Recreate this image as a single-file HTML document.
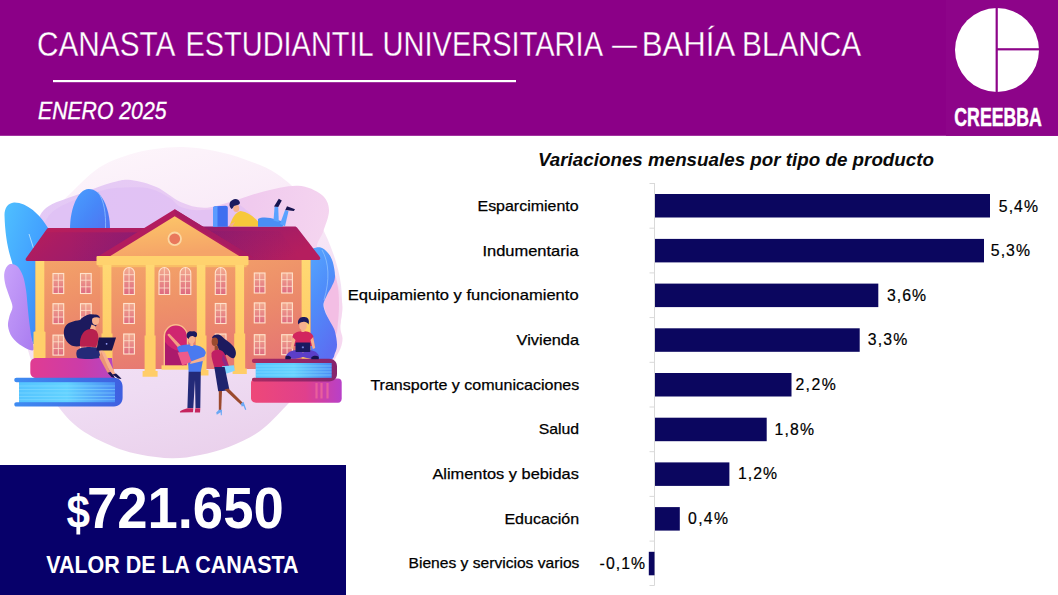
<!DOCTYPE html>
<html lang="es">
<head>
<meta charset="utf-8">
<title>Canasta Estudiantil Universitaria</title>
<style>
html,body{margin:0;padding:0;background:#fff;}
body{width:1058px;height:595px;overflow:hidden;font-family:"Liberation Sans",sans-serif;}
svg{display:block;}
text{font-family:"Liberation Sans",sans-serif;}
.cat{font-size:15px;fill:#000;stroke:#000;stroke-width:0.25px;}
.val{font-size:15.8px;fill:#000;stroke:#000;stroke-width:0.2px;}
</style>
</head>
<body>
<svg width="1058" height="595" viewBox="0 0 1058 595">
<defs>
<linearGradient id="gBg" x1="0.3" y1="0" x2="0.55" y2="1"><stop offset="0" stop-color="#fdf5fb"/><stop offset="0.4" stop-color="#f7e6f6"/><stop offset="0.75" stop-color="#efdcf3"/><stop offset="1" stop-color="#ead1ec"/></linearGradient>
<linearGradient id="gLil" gradientUnits="userSpaceOnUse" x1="30" y1="200" x2="345" y2="260"><stop offset="0" stop-color="#e3c9f6"/><stop offset="0.45" stop-color="#e8cbf4"/><stop offset="0.68" stop-color="#f0caee"/><stop offset="1" stop-color="#f6d8f0"/></linearGradient>
<linearGradient id="gLeafL" x1="0" y1="0" x2="1" y2="1"><stop offset="0" stop-color="#4fc0ff"/><stop offset="0.55" stop-color="#42a0ff"/><stop offset="1" stop-color="#3f7cf5"/></linearGradient>
<linearGradient id="gLeafC" x1="0" y1="0" x2="1" y2="0.8"><stop offset="0" stop-color="#4aa0ff"/><stop offset="0.6" stop-color="#4787f8"/><stop offset="1" stop-color="#4f76f2"/></linearGradient>
<linearGradient id="gLeafR" x1="0" y1="0" x2="0.4" y2="1"><stop offset="0" stop-color="#58acff"/><stop offset="0.5" stop-color="#4f8efa"/><stop offset="1" stop-color="#5b6ff2"/></linearGradient>
<linearGradient id="gVio" x1="0" y1="0" x2="1" y2="1"><stop offset="0" stop-color="#c9a2fa"/><stop offset="1" stop-color="#a97cf0"/></linearGradient>
<linearGradient id="gWall" x1="0" y1="0" x2="0.2" y2="1"><stop offset="0" stop-color="#f4a568"/><stop offset="0.5" stop-color="#ee9069"/><stop offset="1" stop-color="#e77a72"/></linearGradient>
<linearGradient id="gWallR" x1="0" y1="0" x2="0.2" y2="1"><stop offset="0" stop-color="#f19c69"/><stop offset="0.5" stop-color="#eb896b"/><stop offset="1" stop-color="#e57574"/></linearGradient>
<linearGradient id="gYel" x1="0" y1="0" x2="0" y2="1"><stop offset="0" stop-color="#ffd873"/><stop offset="1" stop-color="#ffc964"/></linearGradient>
<linearGradient id="gPed" x1="0" y1="0" x2="0.3" y2="1"><stop offset="0" stop-color="#fdc868"/><stop offset="1" stop-color="#f5a468"/></linearGradient>
<linearGradient id="gRoofL" x1="0" y1="0" x2="1" y2="0.25"><stop offset="0" stop-color="#b91e58"/><stop offset="0.3" stop-color="#a91c64"/><stop offset="0.7" stop-color="#991c6e"/><stop offset="1" stop-color="#8a1b72"/></linearGradient>
<linearGradient id="gRoofR" x1="0" y1="0" x2="1" y2="0.5"><stop offset="0" stop-color="#8c1b70"/><stop offset="0.45" stop-color="#9f1c68"/><stop offset="1" stop-color="#b51e5e"/></linearGradient>
<linearGradient id="gPane" x1="0" y1="0" x2="0" y2="1"><stop offset="0" stop-color="#f3ab8f"/><stop offset="1" stop-color="#de6a80"/></linearGradient>
<linearGradient id="gPinkBk" x1="0" y1="0" x2="1" y2="0"><stop offset="0" stop-color="#e03c92"/><stop offset="0.6" stop-color="#cc3ca8"/><stop offset="1" stop-color="#b546c2"/></linearGradient>
<linearGradient id="gPinkBk2" x1="0" y1="0" x2="1" y2="0"><stop offset="0" stop-color="#ee4878"/><stop offset="0.6" stop-color="#e0408c"/><stop offset="1" stop-color="#b840c8"/></linearGradient>
<linearGradient id="gBlueBk" x1="0" y1="0" x2="1" y2="0"><stop offset="0" stop-color="#3f8cf2"/><stop offset="1" stop-color="#3f5fe0"/></linearGradient>
<linearGradient id="gPages" x1="0" y1="0" x2="1" y2="0"><stop offset="0" stop-color="#55c4ff"/><stop offset="0.5" stop-color="#62d2ff"/><stop offset="1" stop-color="#4a8cf5"/></linearGradient>
<linearGradient id="gPlum" x1="0" y1="0" x2="1" y2="0"><stop offset="0" stop-color="#a82a62"/><stop offset="1" stop-color="#86246e"/></linearGradient>
<linearGradient id="gGround" x1="0" y1="0" x2="0" y2="1"><stop offset="0" stop-color="#efdcf5"/><stop offset="1" stop-color="#e8d3f3"/></linearGradient>
<g id="winR">
<rect x="0.5" y="0.5" width="10.7" height="20" fill="url(#gPane)" stroke="#ffe2cc" stroke-width="1.1"/>
<path d="M5.85 0.5V20.5M0.5 7.2H11.2M0.5 13.8H11.2" stroke="#ffe2cc" stroke-width="0.8" fill="none"/>
</g>
<g id="winA">
<path d="M0.5 27.5V6.2A5.35 5.7 0 0 1 11.2 6.2V27.5Z" fill="url(#gPane)" stroke="#ffe2cc" stroke-width="1.1"/>
<path d="M5.85 0.5V27.5M0.5 7.7H11.2M0.5 14.3H11.2M0.5 21H11.2" stroke="#ffe2cc" stroke-width="0.8" fill="none"/>
</g>
<linearGradient id="gShL" x1="0" y1="0" x2="1" y2="0"><stop offset="0" stop-color="#7d1a72" stop-opacity="0"/><stop offset="1" stop-color="#7d1a72" stop-opacity="0.5"/></linearGradient>
<linearGradient id="gShR" x1="0" y1="0" x2="1" y2="0"><stop offset="0" stop-color="#7d1a72" stop-opacity="0.45"/><stop offset="1" stop-color="#7d1a72" stop-opacity="0"/></linearGradient>
</defs>
<rect x="0" y="0" width="1058" height="595" fill="#ffffff"/>
<!-- ILLUSTRATION -->
<g id="illus">
<!-- background blobs -->
<path d="M183.0 147.0C193.0 147.3 204.7 148.9 215.0 151.0C225.3 153.1 234.7 155.7 245.0 159.5C255.3 163.3 267.0 167.2 277.0 174.0C287.0 180.8 296.5 189.0 305.0 200.0C313.5 211.0 322.0 225.8 328.0 240.0C334.0 254.2 339.2 270.0 341.0 285.0C342.8 300.0 342.5 315.8 339.0 330.0C335.5 344.2 328.7 357.5 320.0 370.0C311.3 382.5 297.0 394.8 287.0 405.0C277.0 415.2 269.5 424.1 260.0 431.0C250.5 437.9 240.0 442.5 230.0 446.5C220.0 450.5 209.7 453.0 200.0 455.0C190.3 457.0 182.0 458.4 172.0 458.3C162.0 458.2 149.8 456.5 140.0 454.5C130.2 452.5 122.9 450.7 113.0 446.5C103.1 442.3 89.8 436.1 80.7 429.5C71.6 422.9 66.1 416.9 58.5 407.0C50.9 397.1 40.8 382.8 35.0 370.0C29.2 357.2 26.0 343.3 24.0 330.0C22.0 316.7 21.5 304.2 23.0 290.0C24.5 275.8 28.5 257.5 33.0 245.0C37.5 232.5 44.0 223.4 50.0 215.0C56.0 206.6 61.2 202.4 69.3 194.6C77.4 186.8 88.8 174.6 98.6 168.0C108.4 161.4 118.6 158.2 128.0 155.0C137.4 151.8 145.8 150.3 155.0 149.0C164.2 147.7 173.0 146.7 183.0 147.0Z" fill="url(#gBg)"/>
<path d="M34.0 250.0C34.0 234.7 34.0 235.0 36.0 228.0C38.0 221.0 39.0 213.6 46.0 208.0C53.0 202.4 66.8 198.9 78.0 194.6C89.2 190.3 104.2 184.7 113.0 182.3C121.8 179.9 123.7 179.2 131.0 180.0C138.3 180.8 148.7 183.6 157.0 187.3C165.3 191.0 172.8 198.6 180.6 202.0C188.4 205.4 195.8 207.8 204.0 207.8C212.2 207.8 220.2 204.7 230.0 202.0C239.8 199.3 251.4 194.4 262.7 191.7C274.0 189.0 288.2 185.3 298.0 185.8C307.8 186.3 316.1 190.6 321.3 194.6C326.5 198.6 328.7 203.8 329.0 210.0C329.3 216.2 325.0 225.8 323.0 232.0C321.0 238.2 316.5 242.0 317.0 247.0C317.5 252.0 323.3 257.5 326.0 262.0C328.7 266.5 330.9 270.0 333.0 274.0C335.1 278.0 337.3 282.6 338.5 286.0C339.7 289.4 339.7 290.9 340.4 294.5C341.1 298.1 342.5 302.1 342.5 307.6C342.5 313.1 340.4 322.2 340.4 327.3C340.4 332.4 342.4 334.7 342.5 338.0C342.6 341.3 341.9 344.2 341.0 347.0C340.1 349.8 338.8 352.5 337.0 355.0C335.2 357.5 336.2 360.2 330.0 362.0C323.8 363.8 325.0 365.3 300.0 366.0C275.0 366.7 220.0 366.0 180.0 366.0C140.0 366.0 84.0 373.7 60.0 366.0C36.0 358.3 40.3 339.3 36.0 320.0C31.7 300.7 34.0 265.3 34.0 250.0Z" fill="url(#gLil)"/>
<path d="M40.0 250.0C40.7 248.8 41.0 232.0 44.0 225.0C47.0 218.0 48.7 213.7 58.0 208.0C67.3 202.3 88.3 194.4 100.0 191.0C111.7 187.6 119.5 187.8 128.0 187.5C136.5 187.2 144.0 187.2 151.0 189.0C158.0 190.8 165.3 195.2 170.0 198.0C174.7 200.8 175.0 204.0 179.0 206.0C183.0 208.0 188.2 209.5 194.0 210.0C199.8 210.5 206.3 209.8 214.0 209.0C221.7 208.2 235.7 201.2 240.0 205.0C244.3 208.8 273.3 227.5 240.0 232.0C206.7 236.5 73.3 229.0 40.0 232.0C6.7 235.0 39.3 251.2 40.0 250.0Z" fill="#dcbcf4" opacity="0.55"/>
<path d="M334.0 274.0C335.7 273.3 337.2 282.8 338.0 288.0C338.8 293.2 339.0 299.3 339.0 305.0C339.0 310.7 338.5 317.2 338.0 322.0C337.5 326.8 337.3 334.0 336.0 334.0C334.7 334.0 332.0 326.8 330.0 322.0C328.0 317.2 324.3 310.0 324.0 305.0C323.7 300.0 326.3 297.2 328.0 292.0C329.7 286.8 332.3 274.7 334.0 274.0Z" fill="#f1b6e0" opacity="0.75"/>
<!-- leaves -->
<path d="M14 202.5C8 203 4.5 208 4.5 215C5 235 8 250 12 262C18 290 24 320 33 344L40 344L48 228C40 214 26 202 14 202.5Z" fill="url(#gLeafL)"/>
<path d="M29 234L35 253" stroke="#c8eaff" stroke-width="0.8" fill="none"/>
<path d="M70 229C70 208 78 189.5 88.5 189C100 188.5 110 206 110 229Z" fill="url(#gLeafC)"/>
<path d="M98 192C104 200 106 214 105.5 228" stroke="#8fc0ff" stroke-width="0.8" fill="none"/>
<path d="M306.0 252.0C307.2 233.1 310.6 249.2 313.0 248.5C315.4 247.8 318.2 246.8 320.7 247.6C323.2 248.3 326.0 250.6 328.0 253.0C330.0 255.4 331.5 257.8 332.7 261.8C333.9 265.8 335.2 272.8 335.0 277.0C334.8 281.2 332.8 284.1 331.5 287.0C330.2 289.9 328.6 291.8 327.3 294.5C326.0 297.2 324.1 300.7 323.6 303.3C323.1 305.9 323.9 307.8 324.5 310.0C325.1 312.2 326.1 314.1 327.3 316.4C328.5 318.7 330.2 321.5 331.5 324.0C332.8 326.5 334.1 328.2 335.0 331.6C335.9 335.1 337.0 341.1 337.0 344.7C337.0 348.3 336.2 350.4 335.0 353.0C333.8 355.6 334.8 358.5 330.0 360.0C325.2 361.5 310.0 380.0 306.0 362.0C302.0 344.0 304.8 270.9 306.0 252.0Z" fill="url(#gLeafR)"/>
<path d="M322 250C329 262 330 280 324 300" stroke="#a8d4ff" stroke-width="0.7" fill="none" opacity="0.8"/>
<path d="M9.0 264.5C11.1 263.5 14.7 264.1 17.0 266.0C19.3 267.9 21.5 272.0 23.0 276.0C24.5 280.0 25.2 285.2 26.0 290.0C26.8 294.8 27.0 300.0 27.5 305.0C28.0 310.0 28.4 315.0 29.0 320.0C29.6 325.0 30.2 330.0 31.0 335.0C31.8 340.0 35.0 348.2 33.5 350.0C32.0 351.8 25.6 348.2 22.0 346.0C18.4 343.8 14.3 340.3 12.0 337.0C9.7 333.7 8.4 329.5 8.0 326.0C7.6 322.5 8.8 319.2 9.5 316.0C10.2 312.8 12.5 310.2 12.5 307.0C12.5 303.8 10.8 301.0 9.5 297.0C8.2 293.0 5.8 287.2 5.0 283.0C4.2 278.8 3.8 275.1 4.5 272.0C5.2 268.9 6.9 265.5 9.0 264.5Z" fill="url(#gVio)"/>
<!-- ground -->
<path d="M46 368H340C342 380 336 400 330 410L60 410Z" fill="url(#gGround)" opacity="0.0"/>
<!-- BUILDING -->
<!-- left wing -->
<rect x="35.5" y="258" width="70" height="111" fill="url(#gWall)"/>
<rect x="247" y="258" width="63.5" height="111" fill="url(#gWallR)"/>
<rect x="100" y="262" width="148" height="107" fill="url(#gWall)"/>
<!-- roofs -->
<path d="M49.5 228H176L150 261H28.5C25.5 261 24.8 259.5 26.5 257.5L46.5 229.5C47.3 228.4 48 228 49.5 228Z" fill="url(#gRoofL)"/>
<path d="M172 226.5H294.5C296 226.5 296.8 227 297.6 228.2L319.5 256.5C321 258.6 320.3 260 317.5 260H196Z" fill="url(#gRoofR)"/>
<!-- roof shadow -->
<path d="M70 232.5H172L150 261H70Z" fill="url(#gShL)"/>
<path d="M48 228H176L173 232.3H45Z" fill="#bd1f5a" opacity="0.55"/>
<path d="M178 231H280L300 260H200Z" fill="url(#gShR)"/>
<!-- pilasters -->
<rect x="35.5" y="261" width="8.8" height="98" fill="url(#gYel)"/>
<rect x="33.5" y="331.5" width="12" height="27" rx="1" fill="#ffcf6a"/>
<rect x="301.6" y="260" width="8.8" height="108.5" fill="url(#gYel)"/>
<!-- pediment -->
<path d="M174.7 209.2L254 258H95.5Z" fill="#b31c5e"/>
<path d="M174.7 209.2L254 258H246L174.7 214Z" fill="#a81b62"/>
<path d="M174.7 216.3L240 256.5H109.5Z" fill="url(#gPed)"/>
<circle cx="174.7" cy="238.8" r="7.2" fill="#fbd7a3"/>
<circle cx="174.7" cy="238.8" r="5.4" fill="#e9785c"/>
<!-- entablature -->
<rect x="96.5" y="256" width="152" height="9.2" rx="1" fill="#ffd26e"/>
<rect x="98.5" y="265" width="148" height="2.2" fill="#f9bd66"/>
<!-- windows -->
<use href="#winR" x="52.5" y="273"/><use href="#winR" x="80" y="273"/>
<use href="#winR" x="52.5" y="303.2"/><use href="#winR" x="80" y="303.2"/>
<use href="#winR" x="52.5" y="334.6"/><use href="#winR" x="80" y="334.6"/>
<use href="#winR" x="253.8" y="272.5"/><use href="#winR" x="281.2" y="272.5"/>
<use href="#winR" x="253.8" y="302.4"/><use href="#winR" x="281.2" y="302.4"/>
<use href="#winR" x="253.8" y="334.2"/><use href="#winR" x="281.2" y="334.2"/>
<use href="#winA" x="123.2" y="267"/><use href="#winA" x="158.5" y="267"/><use href="#winA" x="179.6" y="267"/><use href="#winA" x="214.8" y="267"/>
<use href="#winR" x="123.2" y="303"/><use href="#winR" x="214.8" y="303"/>
<use href="#winR" x="123.2" y="333.5"/><use href="#winR" x="214.8" y="333.5"/>
<!-- door -->
<path d="M163.6 366V336.3A12.2 12.2 0 0 1 188 336.3V366Z" fill="#f9c08c"/>
<path d="M165 366V336.5A10.9 10.9 0 0 1 186.800 336.5V366Z" fill="#cf2670"/>
<path d="M165 366V342C169 347 174 350 179 351L184 366Z" fill="#ab1a6c"/>
<rect x="161.5" y="365.3" width="30" height="4.4" fill="#ffd26e"/>
<!-- columns -->
<g fill="url(#gYel)">
<rect x="102.6" y="265" width="8.8" height="106"/>
<rect x="145.7" y="265" width="8.8" height="108"/>
<rect x="196.8" y="265" width="8.6" height="108"/>
<rect x="235.3" y="265" width="8.8" height="106"/>
</g>
<g fill="#ffcd68">
<path d="M101.5 333.5H112.5V369H114V374.5H100V369H101.5Z"/>
<path d="M144.6 335.5H155.6V371H157.6V376.8H142.6V371H144.6Z"/>
<path d="M195.7 335.5H206.5V370H208.5V375.5H193.7V370H195.7Z"/>
<path d="M234.2 333.5H245.2V368.5H246.8V374H232.6V368.5H234.2Z"/>
</g>
<!-- LEFT BOOKS -->
<path d="M36 358H112L114 378H36C32.5 378 30.3 375.5 30.3 372V364C30.3 360.5 32.5 358 36 358Z" fill="url(#gPinkBk)"/>
<path d="M16.5 377.8H114C119 377.8 122.6 381.5 122.6 386.5V397.8C122.6 402.8 119 406.5 114 406.5H16.5C15 406.5 14.3 405.6 14.3 404.4C14.3 403 15 402.2 16.5 402.2H19V382.2H16.5C15 382.2 14.3 381.3 14.3 380C14.3 378.7 15 377.8 16.5 377.8Z" fill="url(#gBlueBk)"/>
<rect x="19" y="382.2" width="96" height="20" fill="url(#gPages)"/>
<path d="M19 386H115M19 389.5H115M19 393H115M19 396.5H115M19 399.7H115" stroke="#8fe0ff" stroke-width="0.6" opacity="0.8" fill="none"/>
<!-- RIGHT BOOKS -->
<path d="M256 378.6H338C340.2 378.6 341.7 380.2 341.7 382.5V398.8C341.7 401.2 340.2 402.7 338 402.7H256C253 402.7 251 400.7 251 398V383.4C251 380.6 253 378.6 256 378.6Z" fill="url(#gPinkBk2)"/>
<path d="M316.5 383V398.5M321.5 383V398.5M327.5 383V398.5" stroke="#f06a9a" stroke-width="2.2" opacity="0.75" fill="none"/>
<path d="M254 358.8H329C334 358.8 337 362 337 366.5V373.8C337 378.4 334 381.4 329 381.4H254C252.7 381.4 252 380.6 252 379.6C252 378.5 252.7 377.8 254 377.8H256V363H254C252.7 363 252 362.1 252 361C252 359.7 252.7 358.8 254 358.8Z" fill="url(#gPlum)"/>
<rect x="255.7" y="363" width="76" height="14.8" fill="url(#gPages)"/>
<path d="M255.7 366H331.5M255.7 369H331.5M255.7 372H331.5M255.7 375H331.5" stroke="#9fe6ff" stroke-width="0.6" opacity="0.8" fill="none"/>
<!-- WOMAN SITTING LEFT -->
<path d="M96 315.5C90 312.5 84 316 80 320C74 321 67 322 64.5 328C62.5 334 65 341 70 344.5C75 348 82 346.5 86 343C90 338 92 330 96 326C99 323 99.5 318 96 315.5Z" fill="#1c1a5e"/>
<ellipse cx="95.6" cy="320.6" rx="3.6" ry="4.4" fill="#f7b08e"/>
<path d="M92 315.5C95 313.5 99.5 314.5 100 318C97.5 317 94.5 317 92 318.5Z" fill="#1c1a5e"/>
<path d="M91.5 324.5L95.5 326L95.5 330L90 329Z" fill="#f7b08e"/>
<path d="M83 333C86 328.5 93 327.5 96.5 331C99.5 335 98.5 342 96 347L80 346.5C79.5 341 80.5 336.5 83 333Z" fill="#b8204e"/>
<path d="M77 350.5C80 346 96 346 101 349L103 357C95 359.5 84 359.5 77.5 358C76 355.5 76 352.5 77 350.5Z" fill="#232a78"/>
<path d="M98.8 337.5H116L112 350.6H96.4Z" fill="#16144f"/>
<circle cx="106.6" cy="343.8" r="0.9" fill="#9aa4ff"/>
<path d="M99 351C101.5 350 104 351 105 353L115.5 374L113 375.5L100.5 357Z" fill="#f7b08e"/>
<path d="M101.5 352L110 372L108 373.5L99 357Z" fill="#ec9576"/>
<path d="M112.5 374.5L116 373.5C118.5 375.5 120.5 377.5 121.5 379L118 378.5Z" fill="#16144f"/>
<path d="M107.5 372.8L110.5 372C112.5 374 114 376 115 378L111.5 377Z" fill="#16144f"/>
<!-- MAN STANDING -->
<path d="M178.5 348L167.8 335.6C166.9 334.3 168.6 333 169.7 334.1L181 345.8Z" fill="#f3a083"/>
<path d="M177 347.5C181 344 190 344 197 345.5C202 346.5 205.5 349.5 205.8 353L203 360L200.8 372H188.6L188 360C184 358 179 354 177 347.5Z" fill="#4a7af0"/>
<path d="M177.6 352.4L187.8 351.5L191.5 361.7L182.2 365.4Z" fill="#ee5a8a"/>
<path d="M205.5 356L191 361.5L190 364L205 360.5Z" fill="#f7b08e"/>
<rect x="190.3" y="342.5" width="3" height="3.5" fill="#f7b08e"/>
<ellipse cx="191.6" cy="339.6" rx="3.4" ry="4" fill="#f7b08e"/>
<path d="M187 337.5C185.5 333.5 188.5 330.5 192 331.5C195.500 330.500 198 333 196.800 336C196 338 194.500 337 193 336C191 335.500 189.500 336.500 188.500 339Z" fill="#1c1a5e"/>
<path d="M188.600 371.800H200.800L200.300 408H195.500L195 380L193.300 408H187.400Z" fill="#232a78"/>
<path d="M187.500 408.300L193.300 408.300L193 412.300L180 412.400C179.300 411 183 409.500 187.500 408.300Z" fill="#c5245e"/>
<path d="M195.300 408.300H200.300L200 412.600L194.800 412.600Z" fill="#c5245e"/>
<!-- WOMAN STANDING -->
<path d="M212 337.500C213.500 334 219 333.500 222 336.500C225.500 340 229.500 342 232.500 345.500C236.500 349.500 237 355.500 234 358C231 359 229 356 226.500 354.500C224.500 357 222 355 221.500 352C219.500 350.500 218 348.500 217.500 346Z" fill="#1c1a5e"/>
<ellipse cx="214.800" cy="341.800" rx="3.200" ry="4.200" fill="#9b4a2e"/>
<path d="M214.500 345.500L218 346L218.500 350.500H214.500Z" fill="#9b4a2e"/>
<path d="M211.500 353C212.500 350 217 349 220 350C223.500 351 225 354 226 357L229.800 368.500L226.500 370L224.500 367.200H214.300C213 362 211 357.500 211.500 353Z" fill="#c01e64"/>
<path d="M223 354L229.800 368.500L227 370L222 360Z" fill="#8e2a86"/>
<path d="M221.900 366.200L233.900 365.300L234.900 370.800L223.800 374.500Z" fill="#7fd4ff"/>
<path d="M214.300 367H224.700L229.300 389.300C226 391 221.500 391.500 218.200 391.200Z" fill="#1f246e"/>
<path d="M218.800 391L222 391L221.200 410.500H218.800Z" fill="#9b4a2e"/>
<path d="M224.500 389.500L228.500 388.500L243 403L241.200 405Z" fill="#9b4a2e"/>
<path d="M216.200 412.500L219 409.800H222L221.800 415.200L220.800 415.200L220.600 412.200L216.800 414.800Z" fill="#6aa8f5"/>
<path d="M241 403.500L243.500 401.800L246.300 409.500L245.200 410L243.500 406L241.600 406.500Z" fill="#6aa8f5"/>
<!-- BOY SITTING RIGHT -->
<path d="M286 356C288 351 296 348 303 352.500C310 348 317 351 319 356C317.500 359.500 311 359.500 303 357C295 359.500 288 359.500 286 356Z" fill="#5b3ec8"/>
<path d="M285.300 356.500C287 355 290 355.500 291.200 357.500L290.500 359.300H285.300Z" fill="#16144f"/>
<path d="M311.300 357.500C312.500 355.500 316.500 355 318.800 356.800V359.300H311.300Z" fill="#16144f"/>
<path d="M292.500 336C294 332.500 298 331.300 303 331.300C308 331.300 311.500 332.500 313.200 336L314.500 346H291.500Z" fill="#d2255e"/>
<path d="M292.500 337L290.500 348L293 349L295.500 340Z" fill="#f7b08e"/>
<path d="M313.200 337L315.200 348L312.800 349L310.500 340Z" fill="#f7b08e"/>
<rect x="301.500" y="328.500" width="3" height="3.500" fill="#f7b08e"/>
<ellipse cx="303" cy="325.800" rx="3.800" ry="4.300" fill="#f7b08e"/>
<path d="M298.300 324.500C297 320 300 316.500 303.500 317C307.500 316.300 310 319.500 308.500 324.500C307.500 322.500 305 321.500 303 322C301 321.800 299.300 322.800 298.300 324.500Z" fill="#1c1a5e"/>
<rect x="295.500" y="342.600" width="14.800" height="9.400" rx="0.800" fill="#1a1960"/>
<path d="M302.900 346.200V348.400M301.800 347.300H304" stroke="#8ea0ff" stroke-width="0.700"/>
<!-- PERSON LYING ON ROOF -->
<path d="M213 208.500C213 207 214 206.300 215.500 206.200L225.500 205.800C227 205.800 227.800 206.600 227.800 208V226.800H213Z" fill="#3f6ff0"/>
<path d="M213 208.500C213 207 214 206.300 215.500 206.200L217.500 206.100V226.800H213Z" fill="#5b9bff"/>
<path d="M229.500 226.500C231.500 219 235 212.500 240.500 211C248 212 254.500 217.500 258.500 222V226.500Z" fill="#f7c83a"/>
<path d="M232.500 226.500L228.500 225.800L230.500 224L235 222Z" fill="#f7b08e"/>
<ellipse cx="236.200" cy="208.300" rx="3" ry="3.800" fill="#f7b08e"/>
<path d="M231.500 209C228.500 206 229 201.500 232.500 200C235.500 198 239.500 199.500 240 203C239 205.500 236 205 234 206C233 207.500 232.500 208.500 231.500 209Z" fill="#1c1a5e"/>
<path d="M258 219C262 216.500 270 217.500 276 219.500L284.500 222L282.500 226.800H258Z" fill="#4a8ef5"/>
<path d="M273.500 220.500L274.600 206.500L278.200 206.800L278.800 222Z" fill="#5aa2ff"/>
<path d="M280 224L285.200 209.800L288.500 211.200L285 226.300Z" fill="#5aa2ff"/>
<path d="M274 206.500L278.800 198.800L281.800 200.500L278.300 207Z" fill="#16144f"/>
<path d="M285.300 210L287 206.200L295 209.200L293.800 211Z" fill="#16144f"/>
</g><!--/illus-->
<!-- HEADER -->
<g id="header">
<rect x="0" y="0" width="1058" height="135.8" fill="#8b0087"/>
<rect x="946" y="0" width="112" height="135.8" fill="#8d0489"/>
<text class="tw" stroke="#8b0087" stroke-width="0.3" x="37.0" y="55.5" font-size="35" fill="#fff" textLength="138.4" lengthAdjust="spacingAndGlyphs">CANASTA</text>
<text class="tw" stroke="#8b0087" stroke-width="0.3" x="185.5" y="55.5" font-size="35" fill="#fff" textLength="188.1" lengthAdjust="spacingAndGlyphs">ESTUDIANTIL</text>
<text class="tw" stroke="#8b0087" stroke-width="0.3" x="382.6" y="55.5" font-size="35" fill="#fff" textLength="220.4" lengthAdjust="spacingAndGlyphs">UNIVERSITARIA</text>
<text class="tw" stroke="#8b0087" stroke-width="0.3" x="612.0" y="55.5" font-size="35" fill="#fff" textLength="25.0" lengthAdjust="spacingAndGlyphs">–</text>
<text class="tw" stroke="#8b0087" stroke-width="0.3" x="641.7" y="55.5" font-size="35" fill="#fff" textLength="93.5" lengthAdjust="spacingAndGlyphs">BAHÍA</text>
<text class="tw" stroke="#8b0087" stroke-width="0.3" x="742.1" y="55.5" font-size="35" fill="#fff" textLength="119.1" lengthAdjust="spacingAndGlyphs">BLANCA</text>
<rect x="53" y="80" width="463" height="2.2" fill="#fff"/>
<text x="38" y="118.5" font-size="24" font-style="italic" fill="#fff" stroke="#fff" stroke-width="0.35" textLength="128.5" lengthAdjust="spacingAndGlyphs">ENERO 2025</text>
<!-- logo -->
<circle cx="997" cy="50" r="42" fill="#fff"/>
<rect x="995.6" y="6" width="2.2" height="88" fill="#8d0489"/>
<rect x="996" y="48.2" width="44" height="2.2" fill="#8d0489"/>
<text x="954.3" y="126" font-size="25.2" font-weight="bold" fill="#fff" stroke="#fff" stroke-width="0.5" textLength="87.6" lengthAdjust="spacingAndGlyphs">CREEBBA</text>
</g>
<!-- CHART -->
<g id="chart">
<text x="538" y="165.8" font-size="19" font-weight="bold" font-style="italic" fill="#0a0a0a" textLength="396" lengthAdjust="spacingAndGlyphs">Variaciones mensuales por tipo de producto</text>
<g stroke="#d9d9d9" stroke-width="1" fill="none">
<path d="M654.5 183V585.5"/>
<path d="M649.5 183.5H654.5M649.5 228.2H654.5M649.5 272.9H654.5M649.5 317.6H654.5M649.5 362.3H654.5M649.5 407H654.5M649.5 451.7H654.5M649.5 496.4H654.5M649.5 541.1H654.5M649.5 585.5H654.5"/>
</g>
<g fill="#0b065f">
<rect x="655" y="194" width="335" height="23.5"/>
<rect x="655" y="238.9" width="329" height="23.5"/>
<rect x="655" y="283.6" width="223.3" height="23.5"/>
<rect x="655" y="328.3" width="204.7" height="23.5"/>
<rect x="655" y="373" width="136.5" height="23.5"/>
<rect x="655" y="417.7" width="111.7" height="23.5"/>
<rect x="655" y="462.4" width="74.4" height="23.5"/>
<rect x="655" y="507.1" width="24.8" height="23.5"/>
<rect x="648.8" y="551.8" width="5.7" height="23.5"/>
</g>
<g class="cat">
<text x="477.5" y="210.9" textLength="101.1" lengthAdjust="spacingAndGlyphs">Esparcimiento</text>
<text x="482.4" y="255.6" textLength="96.2" lengthAdjust="spacingAndGlyphs">Indumentaria</text>
<text x="347.8" y="300.2" textLength="230.8" lengthAdjust="spacingAndGlyphs">Equipamiento y funcionamiento</text>
<text x="516.6" y="344.9" textLength="62.5" lengthAdjust="spacingAndGlyphs">Vivienda</text>
<text x="370.4" y="389.5" textLength="208.9" lengthAdjust="spacingAndGlyphs">Transporte y comunicaciones</text>
<text x="538.7" y="434.1" textLength="40.4" lengthAdjust="spacingAndGlyphs">Salud</text>
<text x="432.4" y="478.8" textLength="146.5" lengthAdjust="spacingAndGlyphs">Alimentos y bebidas</text>
<text x="504.4" y="523.5" textLength="74.8" lengthAdjust="spacingAndGlyphs">Educación</text>
<text x="408.5" y="568.1" textLength="170.9" lengthAdjust="spacingAndGlyphs">Bienes y servicios varios</text>
</g>
<g class="val">
<text x="998.8" y="211.5" textLength="39.2" lengthAdjust="spacing">5,4%</text>
<text x="990.8" y="256.1" textLength="39.2" lengthAdjust="spacing">5,3%</text>
<text x="887.0" y="300.8" textLength="39.0" lengthAdjust="spacing">3,6%</text>
<text x="867.8" y="345.4" textLength="39.4" lengthAdjust="spacing">3,3%</text>
<text x="795.4" y="390.1" textLength="40.3" lengthAdjust="spacing">2,2%</text>
<text x="774.4" y="434.8" textLength="39.6" lengthAdjust="spacing">1,8%</text>
<text x="738.0" y="479.4" textLength="39.0" lengthAdjust="spacing">1,2%</text>
<text x="688.1" y="524.0" textLength="39.9" lengthAdjust="spacing">0,4%</text>
<text x="599.6" y="568.7" textLength="45.4" lengthAdjust="spacing">-0,1%</text>
</g>
</g>
<!-- VALUE BOX -->
<g id="valuebox">
<rect x="0" y="465" width="346" height="130" fill="#07006a"/>
<text x="66.4" y="528" font-size="46" font-weight="bold" fill="#fff" textLength="23.5" lengthAdjust="spacingAndGlyphs">$</text>
<rect x="76.4" y="527" width="3.8" height="7.5" fill="#fff"/>
<text x="86.9" y="528.3" font-size="57.2" font-weight="bold" fill="#fff" textLength="196.8" lengthAdjust="spacingAndGlyphs">721.650</text>
<text x="46.2" y="573.3" font-size="23" font-weight="bold" fill="#fff" textLength="252.4" lengthAdjust="spacingAndGlyphs">VALOR DE LA CANASTA</text>
</g>
</svg>
</body>
</html>
